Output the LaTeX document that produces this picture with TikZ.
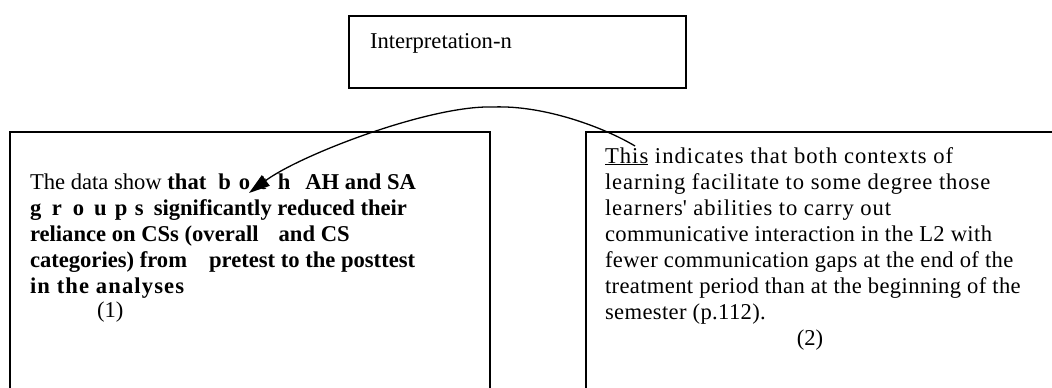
\documentclass[tikz,border=0pt]{standalone}
\usepackage{fontspec}
\setmainfont{Liberation Serif}
\usetikzlibrary{arrows.meta}

\tikzset{
  frame/.style={draw, line width=1.6pt, minimum width=#1, inner sep=0pt, outer sep=0pt},
  txt/.style={anchor=base west, inner sep=0pt, outer sep=0pt,
              font=\fontsize{22.6pt}{26pt}\selectfont},
  link/.style={line width=1.3pt, -{Triangle[length=21pt,width=13pt]}}
}
% spread letters set in fixed-width cells
\newcommand{\cell}[2]{\makebox[#1pt][l]{#2}}
\newcommand{\trk}[1]{\addfontfeatures{LetterSpace=#1}}

\begin{document}
\begin{tikzpicture}[x=1pt, y=-1pt]
\path[use as bounding box] (0,0) rectangle (1052,388);
\clip (0,0) rectangle (1052,388);

% frames
\node[frame=337pt, minimum height=72pt]  (top)   at (517.5,52)  {};
\node[frame=480pt, minimum height=280pt] (left)  at (250,272)   {};
\node[frame=490pt, minimum height=280pt] (right) at (831,272)   {};

% heading box text
\node[txt] (ttl) at (370,48) {Interpretation-n};

% left passage
\node[txt] (l1) at (30,189) {The data show \textbf{that\hspace{12pt}\cell{20.5}{b}\cell{20}{o}\cell{19}{t}h\hspace{15pt}AH and SA}};
\node[txt] (l2) at (30,215) {\bfseries \cell{22}{g}\cell{21}{r}\cell{21}{o}\cell{21}{u}\cell{20}{p}s\hspace{10pt}significantly reduced their};
\node[txt] (l3) at (30,241) {\bfseries reliance on CSs (overall\hspace{20pt}and CS};
\node[txt] (l4) at (30,267) {\bfseries categories) from\hspace{22pt}pretest to the posttest};
\node[txt] (l5) at (30,293) {\bfseries\trk{5}in the analyses};
\node[txt] (l6) at (97,317) {(1)};

% right passage
\node[txt] (r1) at (605,163) {\trk{4.6}\underline{This} indicates that both contexts of};
\node[txt] (r2) at (605,189) {\trk{4}learning facilitate to some degree those};
\node[txt] (r3) at (605,215) {\trk{4}learners\textquotesingle{} abilities to carry out};
\node[txt] (r4) at (605,241) {\trk{1.6}communicative interaction in the L2 with};
\node[txt] (r5) at (605,267) {\trk{1.6}fewer communication gaps at the end of the};
\node[txt] (r6) at (605,293) {\trk{1.6}treatment period than at the beginning of the};
\node[txt] (r7) at (605,319) {\trk{1.6}semester (p.112).};
\node[txt, anchor=base] (r8) at (810,345) {(2)};

% reference arc from "This" back to "both"
\coordinate (src)  at (635,146);
\coordinate (apex) at (493,107);
\coordinate (tip)  at (249,193);
\draw[link] (src) .. controls (605,128) and (545,105) .. (apex)
                  .. controls (430,105) and (300,155) .. (tip);
\end{tikzpicture}
\end{document}
